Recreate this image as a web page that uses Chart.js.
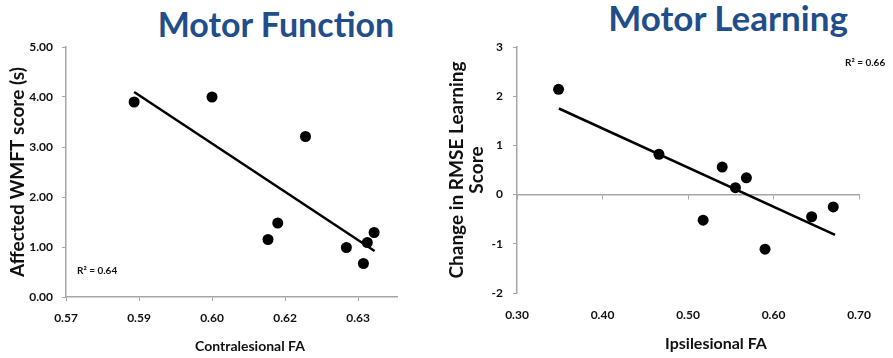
<!DOCTYPE html>
<html>
<head>
<meta charset="utf-8">
<title>Motor Function / Motor Learning</title>
<script src="https://cdn.jsdelivr.net/npm/chart.js@4.4.1/dist/chart.umd.min.js"></script>
<style>
  body { margin: 0; background: #fff; width: 893px; height: 358px; position: relative; overflow: hidden; }
  .ttl { position: absolute; width: 400px; text-align: center; font-family: Lato, sans-serif; font-weight: bold;
         color: #1f4e8a; white-space: nowrap; }
  canvas { position: absolute; top: 0; }
</style>
</head>
<body>
<div class="ttl" style="left:76px; top:7px; font-size:34px; line-height:34px;">Motor Function</div>
<div class="ttl" style="left:528px; top:0px; font-size:35px; line-height:35px;">Motor Learning</div>
<canvas id="left" width="440" height="358" style="left:0;"></canvas>
<canvas id="right" width="453" height="358" style="left:440px;"></canvas>
<script>
// left panel: contralesional FA vs affected WMFT score
var leftFA   = [0.584, 0.600, 0.6192, 0.6135, 0.6115, 0.6276, 0.6311, 0.6319, 0.6333];
var leftWMFT = [3.90, 4.00, 3.21, 1.48, 1.15, 0.99, 0.67, 1.09, 1.29];
var leftFitX = [0.584, 0.6334];
var leftFitY = [4.10, 0.92];
var leftXTicks = [0.570, 0.585, 0.600, 0.615, 0.630];
var leftXLabels = ['0.57', '0.59', '0.60', '0.62', '0.63'];
var leftYTicks = [0, 1, 2, 3, 4, 5];

// right panel: ipsilesional FA vs change in RMSE learning score
var rightFA   = [0.3486, 0.466, 0.540, 0.5555, 0.5683, 0.5177, 0.5901, 0.6446, 0.6699];
var rightRMSE = [2.14, 0.82, 0.56, 0.14, 0.34, -0.52, -1.11, -0.45, -0.25];
var rightFitX = [0.349, 0.672];
var rightFitY = [1.75, -0.82];
var rightXTicks = [0.30, 0.40, 0.50, 0.60, 0.70];
var rightYTicks = [-2, -1, 0, 1, 2, 3];

var axisGray = '#a6a6a6';
var textCol = '#111';
var tickFont = { family: 'Lato, sans-serif', size: 12, weight: 'bold' };

function pts(xs, ys) {
  return xs.map(function (x, i) { return { x: x, y: ys[i] }; });
}
function setTicks(list) {
  return function (scale) { scale.ticks = list.map(function (v) { return { value: v }; }); };
}

// R² note and the x-axis title, both drawn as plain canvas text
function notes(r2, r2pos, xTitle, xSize, xTitlePos) {
  return {
    id: 'notes',
    afterDraw: function (chart) {
      var ctx = chart.ctx, a = chart.chartArea;
      var p = r2pos(a), q = xTitlePos(a);
      ctx.save();
      ctx.fillStyle = textCol;
      ctx.font = 'bold 10px Lato, sans-serif';
      ctx.textBaseline = 'middle';
      ctx.fillText(r2, p[0], p[1]);
      ctx.font = 'bold ' + xSize + 'px Lato, sans-serif';
      ctx.textAlign = 'center';
      ctx.textBaseline = 'alphabetic';
      ctx.fillText(xTitle, q[0], q[1]);
      ctx.restore();
    }
  };
}

new Chart(document.getElementById('left'), {
  type: 'scatter',
  data: {
    datasets: [{
      data: pts(leftFA, leftWMFT),
      backgroundColor: '#000', borderWidth: 0, pointRadius: 5.5, pointHoverRadius: 5.5
    }, {
      data: pts(leftFitX, leftFitY),
      showLine: true, borderColor: '#000', borderWidth: 2.5, pointRadius: 0
    }]
  },
  options: {
    responsive: false, animation: false,
    layout: { padding: { top: 47, right: 43, left: 0, bottom: 0 } },
    plugins: { legend: { display: false }, tooltip: { enabled: false } },
    scales: {
      x: {
        type: 'linear', min: 0.57, max: 0.638,
        afterBuildTicks: setTicks(leftXTicks),
        afterFit: function (s) { s.height = 61; },
        ticks: { font: tickFont, color: textCol, padding: 10, maxRotation: 0,
                 callback: function (v, i) { return leftXLabels[i]; } },
        grid: { drawOnChartArea: false, tickLength: 4, color: axisGray },
        border: { color: axisGray, width: 1.5 }
      },
      y: {
        min: 0, max: 5,
        afterBuildTicks: setTicks(leftYTicks),
        afterFit: function (s) { s.width = 66; },
        ticks: { font: tickFont, color: textCol, padding: 9,
                 callback: function (v) { return Number(v).toFixed(2); } },
        grid: { drawOnChartArea: false, tickLength: 4, color: axisGray },
        border: { color: axisGray, width: 1.5 },
        title: { display: true, text: 'Affected WMFT score (s)', color: textCol,
                 font: { family: 'Lato, sans-serif', size: 19, weight: 'bold', lineHeight: 1.2 },
                 padding: { top: 6, bottom: 0 } }
      }
    }
  },
  plugins: [notes('R\u00b2 = 0.64', function (a) { return [a.left + 11, a.bottom - 26]; },
                  'Contralesional FA', 14, function (a) { return [250, 351]; })]
});

new Chart(document.getElementById('right'), {
  type: 'scatter',
  data: {
    datasets: [{
      data: pts(rightFA, rightRMSE),
      backgroundColor: '#000', borderWidth: 0, pointRadius: 5.5, pointHoverRadius: 5.5
    }, {
      data: pts(rightFitX, rightFitY),
      showLine: true, borderColor: '#000', borderWidth: 2.5, pointRadius: 0
    }]
  },
  options: {
    responsive: false, animation: false,
    layout: { padding: { top: 47, right: 34, left: 0, bottom: 0 } },
    plugins: { legend: { display: false }, tooltip: { enabled: false } },
    scales: {
      x: {
        type: 'linear', min: 0.30, max: 0.70,
        afterBuildTicks: setTicks(rightXTicks),
        afterFit: function (s) { s.height = 65; },
        ticks: { font: tickFont, color: textCol, padding: 15, maxRotation: 0,
                 callback: function (v) { return Number(v).toFixed(2); } },
        grid: { display: false, drawTicks: false },
        border: { display: false }
      },
      x2: {
        type: 'linear', min: 0.30, max: 0.70, position: { y: 0 },
        afterBuildTicks: setTicks(rightXTicks),
        afterFit: function (s) { s.height = 0; },
        ticks: { display: false },
        grid: { drawOnChartArea: false, tickLength: 4, color: axisGray },
        border: { color: axisGray, width: 1.5 }
      },
      y: {
        min: -2, max: 3,
        afterBuildTicks: setTicks(rightYTicks),
        afterFit: function (s) { s.width = 77; },
        ticks: { font: tickFont, color: textCol, padding: 10 },
        grid: { drawOnChartArea: false, tickLength: 4, color: axisGray },
        border: { color: axisGray, width: 1.5 },
        title: { display: true, text: ['Change in RMSE Learning', 'Score'], color: textCol,
                 font: { family: 'Lato, sans-serif', size: 19, weight: 'bold', lineHeight: 1.1 },
                 padding: { top: 6, bottom: 0 } }
      }
    }
  },
  plugins: [notes('R\u00b2 = 0.66', function (a) { return [a.right - 14, a.top + 16]; },
                  'Ipsilesional FA', 16, function (a) { return [276, 349]; })]
});
</script>
</body>
</html>
